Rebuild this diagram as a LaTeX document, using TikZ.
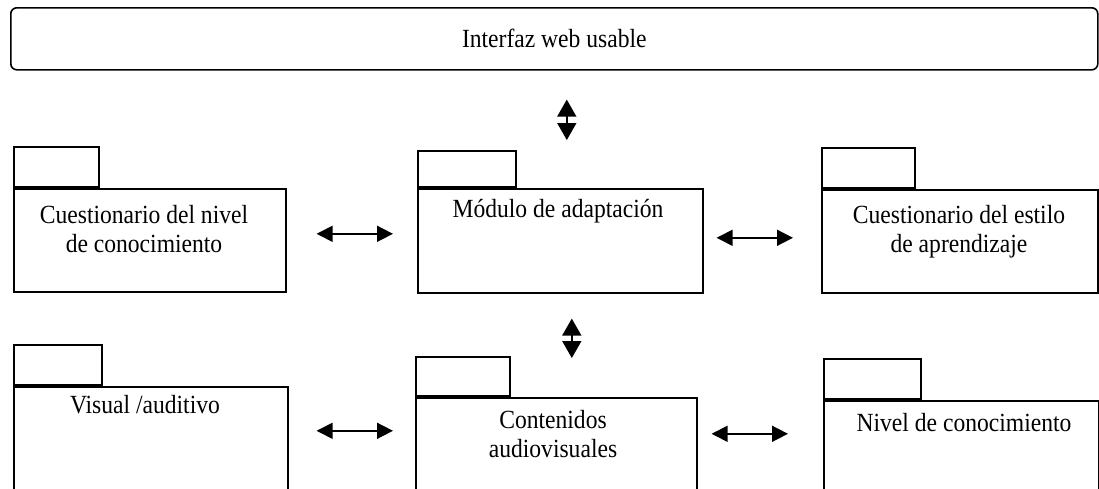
\documentclass[tikz,border=0pt]{standalone}
\usepackage{fontspec}
\setmainfont{Liberation Serif}[FakeStretch=0.9]
\usetikzlibrary{arrows.meta}

\begin{document}
\begin{tikzpicture}[x=1pt,y=-1pt,
  line width=1.6pt,
  pkgbody/.style={draw,anchor=north west,inner sep=0pt},
  pkgtab/.style={draw,anchor=south west,inner sep=0pt,minimum height=40pt},
  pkgtext/.style={anchor=north,inner sep=0pt,align=center,font=\fontsize{26.2}{28.5}\selectfont},
  biarrow/.style={{Triangle[length=16pt,width=16pt]}-{Triangle[length=16pt,width=16pt]}},
  vbiarrow/.style={{Triangle[length=17pt,width=19pt]}-{Triangle[length=17pt,width=19pt]}}
]
  \useasboundingbox (0,0) rectangle (1099,488);
  \clip (0,0) rectangle (1099,488);

  % top bar
  \node[draw,rounded corners=6pt,anchor=north west,inner sep=0pt,
    minimum width=1087pt,minimum height=62pt,
    font=\fontsize{26.2}{28.5}\selectfont] (iface) at (10,7) {Interfaz web usable};

  % upper row of packages
  \node[pkgbody,minimum width=272pt,minimum height=103pt] (cnivel) at (13,188) {};
  \node[pkgtab,minimum width=85pt] (cnivel-tab) at (cnivel.north west) {};
  \node[pkgtext] (cnivel-txt) at (144,205) {Cuestionario del nivel\\de conocimiento};

  \node[pkgbody,minimum width=285pt,minimum height=104pt] (modulo) at (417,188) {};
  \node[pkgtab,minimum width=98pt,minimum height=36pt] (modulo-tab) at (modulo.north west) {};
  \node[pkgtext] (modulo-txt) at (558,198) {Módulo de adaptación};

  \node[pkgbody,minimum width=276pt,minimum height=103pt] (cestilo) at (821,189) {};
  \node[pkgtab,minimum width=93pt] (cestilo-tab) at (cestilo.north west) {};
  \node[pkgtext] (cestilo-txt) at (959,205) {Cuestionario del estilo\\de aprendizaje};

  % lower row of packages
  \node[pkgbody,minimum width=274pt,minimum height=109pt] (visual) at (13,386) {};
  \node[pkgtab,minimum width=88pt] (visual-tab) at (visual.north west) {};
  \node[pkgtext] (visual-txt) at (145,395) {Visual /auditivo};

  \node[pkgbody,minimum width=281pt,minimum height=98pt] (conten) at (415,397) {};
  \node[pkgtab,minimum width=94pt,minimum height=39pt] (conten-tab) at (conten.north west) {};
  \node[pkgtext] (conten-txt) at (553,410) {Contenidos\\audiovisuales};

  \node[pkgbody,minimum width=275pt,minimum height=95pt] (nivel) at (823,400) {};
  \node[pkgtab,minimum width=97pt,minimum height=40pt] (nivel-tab) at (nivel.north west) {};
  \node[pkgtext] (nivel-txt) at (964,413) {Nivel de conocimiento};

  % connectors
  \draw[vbiarrow,shorten <=29pt,shorten >=48pt]
    ([xshift=12.5pt]iface.south) -- ([xshift=6.5pt]modulo.north);
  \draw[biarrow,shorten <=30pt,shorten >=24pt]
    ([yshift=6.5pt]cnivel.east) -- ([yshift=7pt]modulo.west);
  \draw[biarrow,shorten <=13pt,shorten >=28pt]
    ([yshift=3pt]modulo.east) -- ([yshift=3.5pt]cestilo.west);
  \draw[vbiarrow,shorten <=25pt,shorten >=39pt]
    ([xshift=11.5pt]modulo.south) -- ([xshift=15.5pt]conten.north);
  \draw[biarrow,shorten <=28pt,shorten >=22pt]
    ([yshift=10.5pt]visual.east) -- ([yshift=16pt]conten.west);
  \draw[biarrow,shorten <=14pt,shorten >=35pt]
    ([yshift=13pt]conten.east) -- ([yshift=14.5pt]nivel.west);
\end{tikzpicture}
\end{document}
